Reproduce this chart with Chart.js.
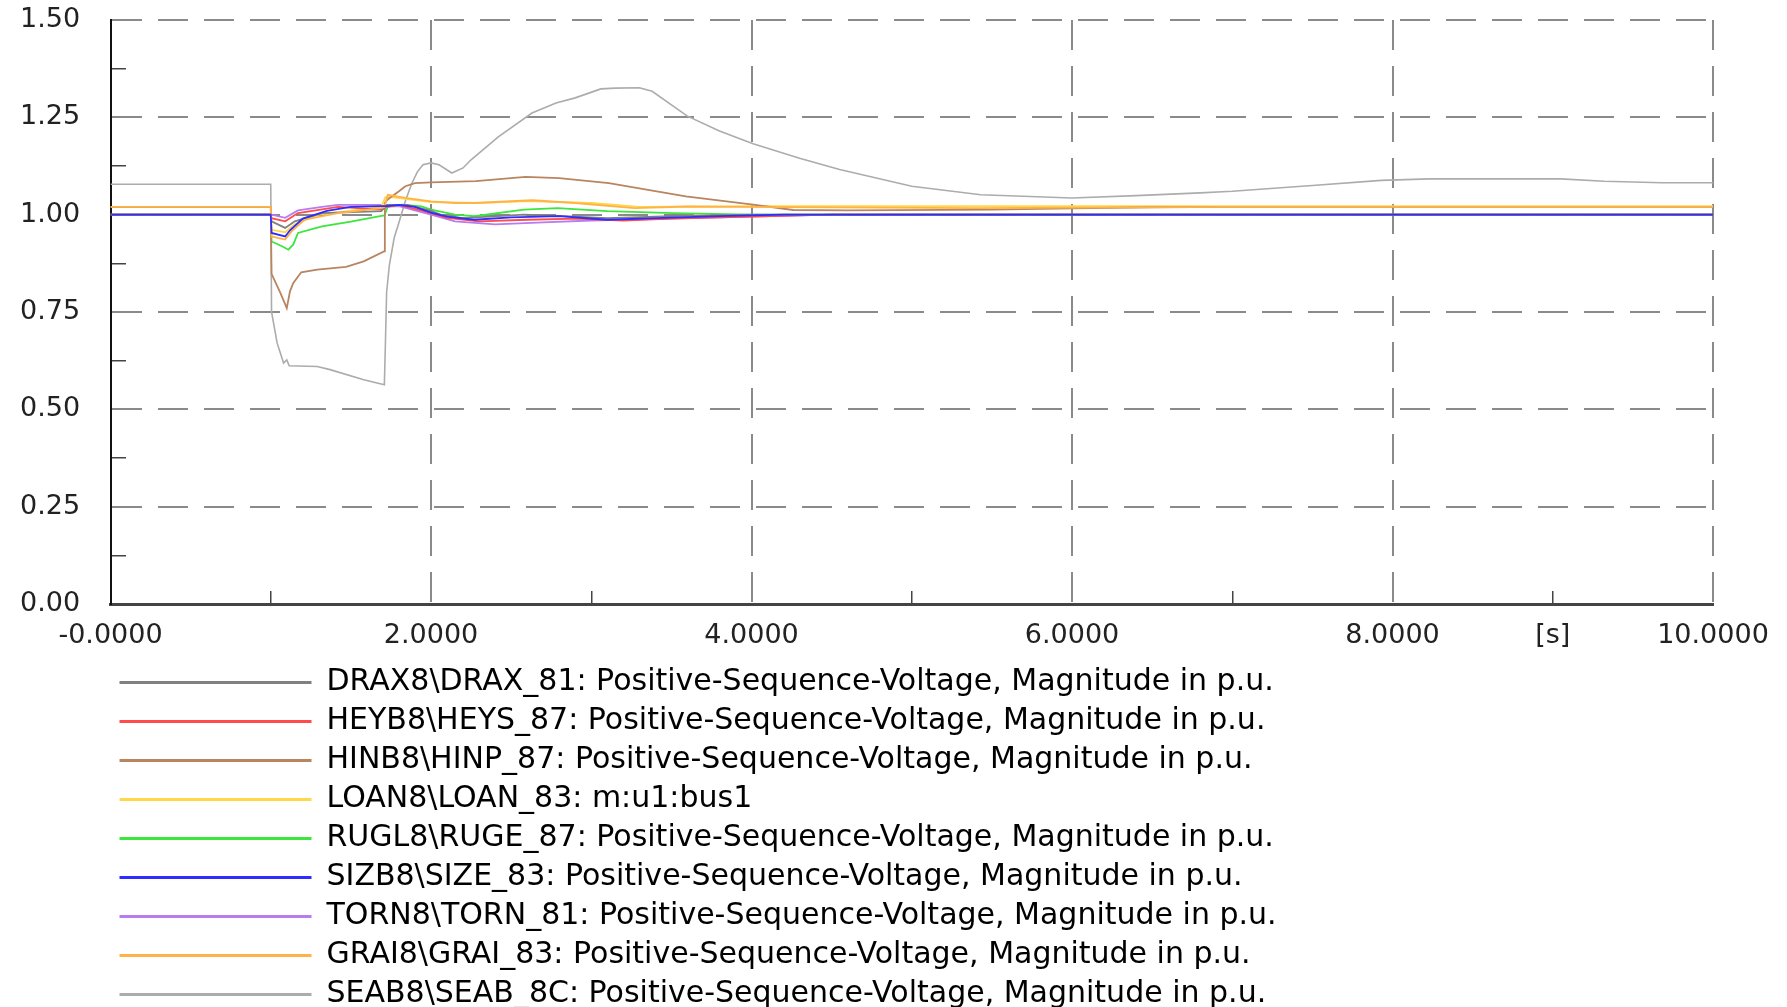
<!DOCTYPE html>
<html>
<head>
<meta charset="utf-8">
<script src="https://cdn.jsdelivr.net/npm/chart.js"></script>
<style>
    html, body { margin: 0; padding: 0; background: #fff; overflow: hidden; }
    #wrap { position: relative; width: 1787px; height: 1007px; }
</style>
</head>
<body>
<div id="wrap"><canvas id="chart"></canvas></div>
<script>
// axis ranges and tick labels
const tMin = 0, tMax = 10;
const vMin = 0, vMax = 1.5;
const xTickValues = [0, 2, 4, 6, 8, 9, 10];
const xTickText = ['-0.0000', '2.0000', '4.0000', '6.0000', '8.0000', '[s]', '10.0000'];
const yTickValues = [0, 0.25, 0.5, 0.75, 1.0, 1.25, 1.5];
const yTickText = ['0.00', '0.25', '0.50', '0.75', '1.00', '1.25', '1.50'];

// legend texts and line colours
const seriesNames = [
    'DRAX8\\DRAX_81: Positive-Sequence-Voltage, Magnitude in p.u.',
    'HEYB8\\HEYS_87: Positive-Sequence-Voltage, Magnitude in p.u.',
    'HINB8\\HINP_87: Positive-Sequence-Voltage, Magnitude in p.u.',
    'LOAN8\\LOAN_83: m:u1:bus1',
    'RUGL8\\RUGE_87: Positive-Sequence-Voltage, Magnitude in p.u.',
    'SIZB8\\SIZE_83: Positive-Sequence-Voltage, Magnitude in p.u.',
    'TORN8\\TORN_81: Positive-Sequence-Voltage, Magnitude in p.u.',
    'GRAI8\\GRAI_83: Positive-Sequence-Voltage, Magnitude in p.u.',
    'SEAB8\\SEAB_8C: Positive-Sequence-Voltage, Magnitude in p.u.'
];
const seriesColors = ['#808080', '#ff4b4b', '#b88560', '#ffd84a', '#3ce63c', '#2d2dff', '#b77cf0', '#ffb347', '#acacac'];

// time [s] / voltage [p.u.]
const draxT = [0, 1.0, 1.005, 1.09, 1.15, 1.32, 1.69, 1.72, 1.85, 2.0, 2.06, 2.2, 2.58, 2.8, 3.1, 3.5, 4.0, 10];
const draxV = [1.0, 1.0, 0.983, 0.966, 0.983, 1.004, 1.009, 1.025, 1.025, 1.01, 1.0, 0.991, 1.0, 0.997, 0.991, 0.996, 1.0, 1.0];

const heysT = [0, 1.0, 1.005, 1.09, 1.17, 1.42, 1.69, 1.72, 1.8, 1.95, 2.1, 2.3, 2.6, 2.9, 3.2, 3.5, 4.0, 4.5, 10];
const heysV = [1.0, 1.0, 0.991, 0.983, 1.004, 1.02, 1.013, 1.02, 1.025, 1.01, 0.992, 0.983, 0.987, 0.99, 0.985, 0.99, 0.995, 1.0, 1.0];

const hinpT = [0, 1.0, 1.005, 1.06, 1.10, 1.12, 1.14, 1.19, 1.29, 1.47, 1.58, 1.71, 1.712, 1.73, 1.8, 1.84, 1.9, 2.0, 2.28, 2.59, 2.8, 3.11, 3.59, 4.01, 4.26, 4.6, 5.5, 6.0, 6.5, 7.0, 10];
const hinpV = [1.02, 1.02, 0.848, 0.799, 0.760, 0.803, 0.824, 0.852, 0.859, 0.866, 0.880, 0.906, 1.03, 1.039, 1.06, 1.073, 1.081, 1.083, 1.086, 1.097, 1.094, 1.081, 1.047, 1.026, 1.012, 1.011, 1.013, 1.016, 1.019, 1.02, 1.02];

const loanT = [0, 1.0, 1.005, 1.09, 1.15, 1.3, 1.69, 1.715, 1.75, 2.0, 2.3, 2.6, 3.0, 3.3, 4.0, 10];
const loanV = [1.02, 1.02, 0.961, 0.955, 0.975, 1.0, 1.02, 1.045, 1.045, 1.032, 1.03, 1.035, 1.03, 1.02, 1.022, 1.022];

const rugeT = [0, 1.0, 1.005, 1.07, 1.11, 1.14, 1.17, 1.32, 1.5, 1.69, 1.71, 1.73, 1.82, 1.94, 2.0, 2.15, 2.27, 2.58, 2.79, 3.1, 3.51, 4.0, 10];
const rugeV = [1.0, 1.0, 0.931, 0.919, 0.910, 0.923, 0.953, 0.970, 0.982, 0.997, 0.998, 1.021, 1.026, 1.021, 1.013, 1.0, 0.996, 1.013, 1.017, 1.009, 1.004, 1.0, 1.0];

const sizeT = [0, 1.0, 1.005, 1.09, 1.12, 1.2, 1.35, 1.5, 1.69, 1.72, 1.8, 1.9, 2.0, 2.1, 2.27, 2.5, 2.8, 3.1, 3.4, 3.8, 4.2, 10];
const sizeV = [1.0, 1.0, 0.953, 0.944, 0.96, 0.99, 1.01, 1.02, 1.022, 1.022, 1.025, 1.02, 1.005, 0.995, 0.987, 0.993, 0.996, 0.987, 0.991, 0.996, 1.0, 1.0];

const tornT = [0, 1.0, 1.005, 1.09, 1.17, 1.32, 1.42, 1.69, 1.72, 1.8, 2.0, 2.15, 2.4, 2.7, 3.0, 3.3, 3.8, 4.5, 10];
const tornV = [1.0, 1.0, 1.0, 0.992, 1.011, 1.02, 1.025, 1.025, 1.02, 1.022, 1.0, 0.983, 0.975, 0.98, 0.985, 0.988, 0.993, 1.0, 1.0];

const graiT = [0, 1.0, 1.005, 1.09, 1.13, 1.21, 1.42, 1.69, 1.71, 1.73, 1.84, 2.0, 2.15, 2.27, 2.63, 2.9, 3.27, 3.6, 3.9, 5.4, 6.0, 7.0, 10];
const graiV = [1.02, 1.02, 0.944, 0.936, 0.957, 0.987, 1.004, 1.017, 1.02, 1.051, 1.043, 1.034, 1.03, 1.03, 1.037, 1.03, 1.017, 1.021, 1.02, 1.017, 1.018, 1.02, 1.02];

const seabT = [0, 1.0, 1.005, 1.04, 1.08, 1.10, 1.115, 1.29, 1.37, 1.58, 1.709, 1.715, 1.723, 1.74, 1.77, 1.80, 1.84, 1.88, 1.915, 1.95, 2.0, 2.05, 2.13, 2.2, 2.25, 2.42, 2.63, 2.78, 2.9, 3.06, 3.15, 3.3, 3.38, 3.6, 3.8, 4.01, 4.3, 4.55, 5.0, 5.43, 6.0, 6.4, 6.8, 7.0, 7.5, 7.93, 8.23, 9.05, 9.32, 9.68, 10];
const seabV = [1.078, 1.078, 0.75, 0.67, 0.619, 0.627, 0.612, 0.61, 0.602, 0.576, 0.563, 0.66, 0.8, 0.87, 0.94, 0.98, 1.035, 1.08, 1.11, 1.128, 1.133, 1.128, 1.107, 1.12, 1.141, 1.2, 1.261, 1.287, 1.3, 1.323, 1.325, 1.326, 1.317, 1.253, 1.215, 1.182, 1.145, 1.116, 1.073, 1.051, 1.043, 1.049, 1.056, 1.06, 1.075, 1.088, 1.092, 1.092, 1.086, 1.082, 1.082];

const seriesT = [draxT, heysT, hinpT, loanT, rugeT, sizeT, tornT, graiT, seabT];
const seriesV = [draxV, heysV, hinpV, loanV, rugeV, sizeV, tornV, graiV, seabV];
// blue and orange sit on top of the bundles at 1.00 / 1.02
const seriesOrder = [0, 0, 0, 0, 0, -1, 0, -1, 0];
const seriesWidth = [1.8, 1.8, 1.8, 1.8, 1.8, 1.8, 1.8, 1.8, 1.6];

const FONT = 'DejaVu Sans';
const GRID = '#8a8a8a';
const DASH = [30, 16];

function toPoints(ts, vs) {
    return ts.map((t, i) => ({ x: t, y: vs[i] }));
}

const datasets = seriesNames.map((name, i) => ({
    label: name,
    data: toPoints(seriesT[i], seriesV[i]),
    borderColor: seriesColors[i],
    backgroundColor: seriesColors[i],
    borderWidth: seriesWidth[i],
    pointRadius: 0,
    tension: 0,
    order: seriesOrder[i]
}));

function tickText(values, texts, v) {
    const i = values.findIndex(x => Math.abs(x - v) < 1e-9);
    return i < 0 ? '' : texts[i];
}

new Chart(document.getElementById('chart'), {
    type: 'line',
    data: { datasets: datasets },
    options: {
        responsive: true,
        maintainAspectRatio: false,
        animation: false,
        layout: { padding: { top: 20, right: 74, bottom: -12.5, left: 20 } },
        plugins: {
            tooltip: { enabled: false },
            legend: {
                position: 'bottom',
                align: 'start',
                fullSize: false,
                labels: {
                    boxWidth: 192,
                    boxHeight: 0,
                    padding: 9,
                    color: '#222',
                    font: { family: FONT, size: 30 },
                    generateLabels: chart => chart.data.datasets.map((ds, i) => ({
                        text: ds.label,
                        fillStyle: ds.borderColor,
                        strokeStyle: ds.borderColor,
                        lineWidth: 3,
                        hidden: false,
                        datasetIndex: i
                    }))
                }
            }
        },
        scales: {
            x: {
                type: 'linear',
                min: tMin,
                max: tMax,
                afterFit: s => { s.height = 54.5; },
                ticks: {
                    stepSize: 1,
                    maxTicksLimit: 50,
                    autoSkip: false,
                    maxRotation: 0,
                    padding: 16,
                    color: '#222',
                    font: { family: FONT, size: 27 },
                    callback: v => tickText(xTickValues, xTickText, v)
                },
                grid: {
                    drawTicks: false,
                    lineWidth: c => (c.tick && c.tick.value % 2 === 0) ? 2 : 1.5,
                    color: c => {
                        const v = c.tick ? c.tick.value : 0;
                        if (v === 0) return 'rgba(0,0,0,0)';
                        return v % 2 === 0 ? GRID : '#444';
                    }
                },
                border: {
                    color: '#444',
                    width: 3,
                    dash: c => {
                        if (!c.tick) return [];
                        if (c.tick.value % 2 === 0) return DASH;
                        // odd seconds: short inner tick at the bottom only
                        const h = c.chart.chartArea.bottom - c.chart.chartArea.top;
                        return [0, h - 13, 13, 4000];
                    }
                }
            },
            y: {
                min: vMin,
                max: vMax,
                afterFit: s => { s.width = 90.5; },
                ticks: {
                    stepSize: 0.125,
                    maxTicksLimit: 50,
                    autoSkip: false,
                    padding: 0,
                    crossAlign: 'far',
                    color: '#222',
                    font: { family: FONT, size: 27 },
                    callback: v => tickText(yTickValues, yTickText, v)
                },
                grid: {
                    drawTicks: false,
                    lineWidth: c => (c.tick && c.tick.value % 0.25 === 0) ? 2 : 1.5,
                    color: c => {
                        const v = c.tick ? c.tick.value : 0;
                        if (v === 0) return 'rgba(0,0,0,0)';
                        return v % 0.25 === 0 ? GRID : '#444';
                    }
                },
                border: {
                    color: '#111',
                    width: 2,
                    dash: c => {
                        if (!c.tick) return [];
                        return c.tick.value % 0.25 === 0 ? DASH : [14, 4000];
                    }
                }
            }
        }
    }
});
</script>
</body>
</html>
